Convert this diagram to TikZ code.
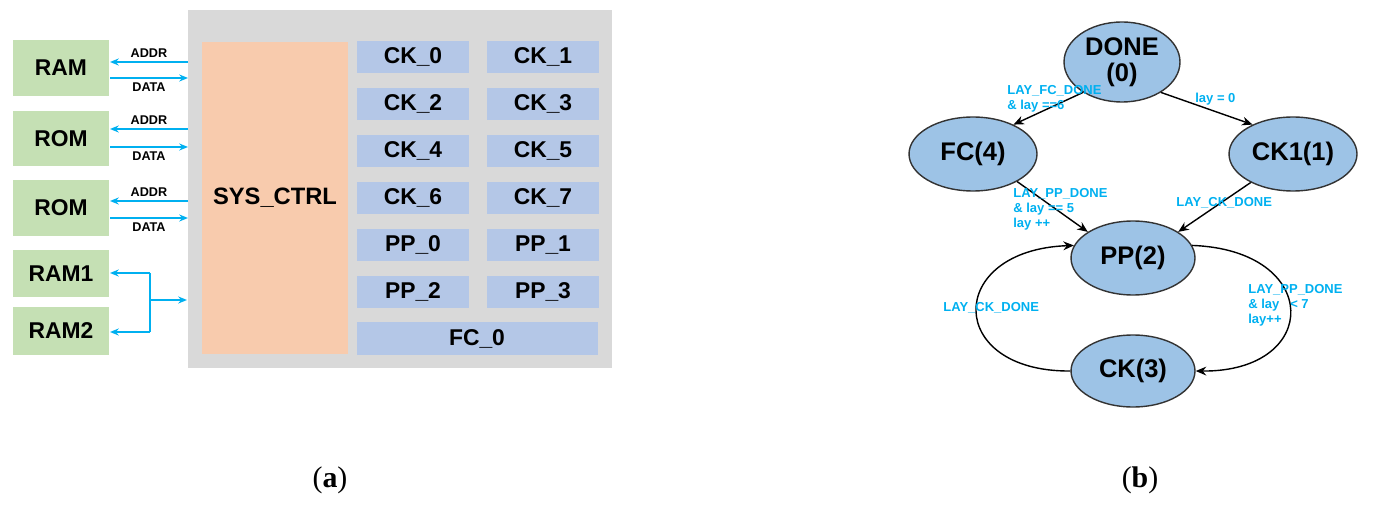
\documentclass[tikz,border=0pt]{standalone}
\usepackage{fontspec}
\setmainfont{Liberation Sans}
\newfontfamily\serifx{Liberation Serif}
\usetikzlibrary{arrows.meta,shapes.geometric}
\definecolor{grayb}{HTML}{D9D9D9}
\definecolor{sysc}{HTML}{F8CBAD}
\definecolor{ckc}{HTML}{B4C7E7}
\definecolor{memc}{HTML}{C5E0B4}
\definecolor{stc}{HTML}{9DC3E6}
\definecolor{lblc}{HTML}{00B0F0}
\tikzset{
 px/.style={x=0.02cm,y=-0.02cm},
 bx/.style={font=\bfseries\fontsize{13}{14}\selectfont},
 bus/.style={draw=lblc,line width=1pt,-{Stealth[length=5pt,width=4pt]}},
 sig/.style={font=\bfseries\fontsize{7.2}{8}\selectfont},
 st/.style={ellipse,fill=stc,draw=black!80,line width=0.8pt,font=\bfseries\fontsize{14.5}{15}\selectfont,align=center,inner sep=1pt},
 tr/.style={draw=black,line width=0.8pt,-{Stealth[length=6pt,width=5pt]}},
 tl/.style={text=lblc,font=\bfseries\fontsize{7.4}{8.6}\selectfont,align=left,anchor=north west,inner sep=0pt}
}
\begin{document}
\begin{tikzpicture}[px]
\useasboundingbox (0,0) rectangle (1376,513);
\fill[grayb] (188,10) rectangle (612,368);
\fill[sysc] (202,42) rectangle (348,354);
\node[font=\bfseries\fontsize{13.5}{14}\selectfont] (sys) at (275,198) {SYS\_CTRL};
% cells
\foreach \n/\x/\y in {CK\_0/357/41,CK\_1/487/41,CK\_2/357/88,CK\_3/487/88,CK\_4/357/135,CK\_5/487/135,CK\_6/357/182,CK\_7/487/182,PP\_0/357/229,PP\_1/487/229,PP\_2/357/276,PP\_3/487/276}{
 \fill[ckc] (\x,\y) rectangle ++(112,32);
 \node[bx] at (\x+56,\y+16) {\n};
}
\fill[ckc] (357,322) rectangle (598,355);
\node[bx] (fc0) at (477,339) {FC\_0};
% memories
\foreach \nm/\t/\ya/\yb in {ram/RAM/40/96,rom1/ROM/111/166,rom2/ROM/180/236,ram1/RAM1/250/297,ram2/RAM2/307/355}{
 \fill[memc] (13,\ya) rectangle (109,\yb);
 \node[bx] (\nm) at (61,{(\ya+\yb)/2}) {\t};
}
\foreach \nm/\ya/\yd in {ram/62/78,rom1/129/147,rom2/201/218}{
 \coordinate (a1) at (188,\ya); \coordinate (a2) at (110,\ya);
 \draw[bus] (a1) -- (a2) node[midway,above=-1pt,sig] {ADDR};
 \coordinate (d1) at (110,\yd); \coordinate (d2) at (188,\yd);
 \draw[bus] (d1) -- (d2) node[midway,below=-1pt,sig] {DATA};
}
\coordinate (b1) at (150,273); \coordinate (b2) at (150,332); \coordinate (bm) at (150,300); \coordinate (bt) at (187,300);
\draw[draw=lblc,line width=1pt] (b1) -- (b2);
\draw[bus] (b1) -- (110,273);
\draw[bus] (b2) -- (110,332);
\draw[bus] (bm) -- (bt);
\node[font=\serifx\fontsize{17}{20}\selectfont] (la) at (330,480) {(\textbf{a})};
\node[font=\serifx\fontsize{17}{20}\selectfont] (lb) at (1140,480) {(\textbf{b})};
% states
\node[st,minimum width=2.32cm,minimum height=1.6cm] (done) at (1122,62) {DONE\\(0)};
\node[st,minimum width=2.56cm,minimum height=1.48cm] (fc) at (973,154) {FC(4)};
\node[st,minimum width=2.56cm,minimum height=1.48cm] (ck1) at (1293,154) {CK1(1)};
\node[st,minimum width=2.48cm,minimum height=1.48cm] (pp) at (1133,258) {PP(2)};
\node[st,minimum width=2.48cm,minimum height=1.44cm] (ck) at (1133,371) {CK(3)};
\draw[tr] (done.218) -- (fc.36);
\draw[tr] (done.-38) -- (ck1.144);
\draw[tr] (fc.-32) -- (pp.150);
\draw[tr] (ck1.214) -- (pp.30);
\draw[tr] (ck.west) .. controls (945,372) and (945,250) .. (pp.168);
\draw[tr] (pp.12) .. controls (1322,250) and (1322,372) .. (ck.east);
\node[tl] (l1) at (1007,85) {LAY\_FC\_DONE\\\& lay ==6};
\node[tl] (l2) at (1195,93) {lay = 0};
\node[tl] (l3) at (1013,188) {LAY\_PP\_DONE\\\& lay == 5\\lay ++};
\node[tl] (l4) at (1176,197) {LAY\_CK\_DONE};
\node[tl] (l5) at (943,302) {LAY\_CK\_DONE};
\node[tl] (l6) at (1248,284) {LAY\_PP\_DONE\\\& lay \ \ < 7\\lay++};
\end{tikzpicture}
\end{document}
